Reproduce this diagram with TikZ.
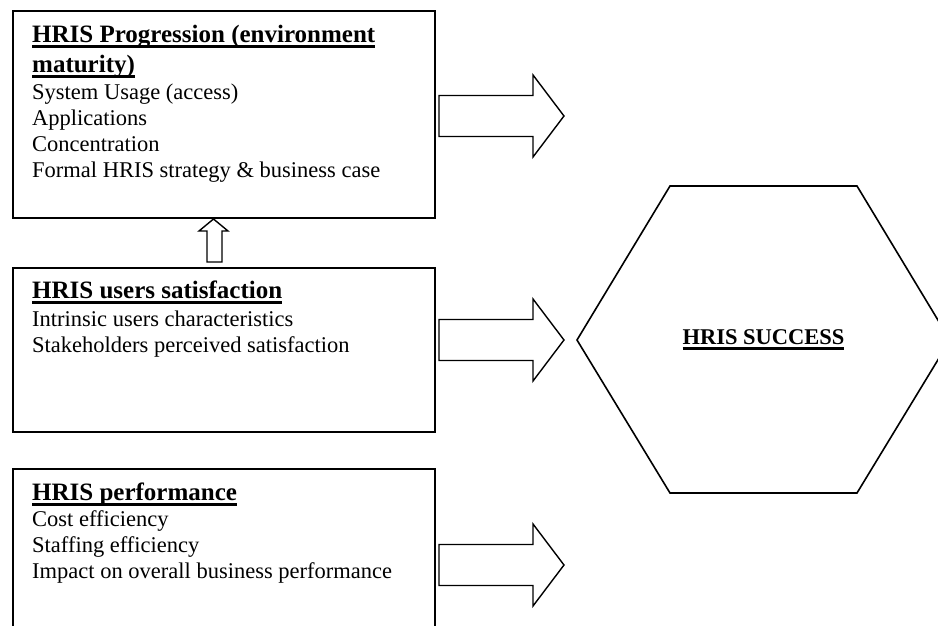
\documentclass[tikz,border=0pt]{standalone}
\usepackage{fontspec}
\setmainfont{Liberation Serif}
\newcommand{\hul}[1]{\setbox0=\hbox{#1}\rlap{\rule[-5.5pt]{\wd0}{2.4pt}}\box0}
\begin{document}
\begin{tikzpicture}[x=1pt,y=-1pt,
  boxstyle/.style={draw=black, line width=1.8pt, rectangle, inner sep=0pt, anchor=north west},
  txt/.style={anchor=base west, inner sep=0pt, align=left, font=\fontsize{22.5}{26}\selectfont},
  blockarrow/.style={draw=black, line width=1.4pt, line join=miter, fill=white}]
\useasboundingbox (0,0) rectangle (938,626);
% boxes
\node[boxstyle, minimum width=422pt, minimum height=206.5pt] (prog) at (12,10.5) {};
\node[boxstyle, minimum width=422pt, minimum height=164pt] (sat) at (12,267) {};
\node[boxstyle, minimum width=422pt, minimum height=180pt] (perf) at (12,468) {};
% texts (anchored at the baseline of the last line)
\node[txt] (progtxt) at (32,177) {{\fontsize{25}{30}\selectfont\bfseries\hul{HRIS Progression (environment}}\\[4pt]
{\fontsize{25}{30}\selectfont\bfseries\hul{maturity)}}\\[1pt]
System Usage (access)\\
Applications\\
Concentration\\
Formal HRIS strategy \& business case};
\node[txt] (sattxt) at (32,352) {{\fontsize{25}{30}\selectfont\bfseries\hul{HRIS users satisfaction}}\\[2pt]
Intrinsic users characteristics\\
Stakeholders perceived satisfaction};
\node[txt] (perftxt) at (32,578) {{\fontsize{25}{30}\selectfont\bfseries\hul{HRIS performance}}\\
Cost efficiency\\
Staffing efficiency\\
Impact on overall business performance};
% hexagon
\coordinate (h1) at (577,340);
\coordinate (h2) at (670,186);
\coordinate (h3) at (857,186);
\coordinate (h4) at (950,340);
\coordinate (h5) at (857,493);
\coordinate (h6) at (670,493);
\draw[line width=1.6pt, line join=miter] (h1) -- (h2) -- (h3) -- (h4) -- (h5) -- (h6) -- cycle;
\node[anchor=base, inner sep=0pt, font=\fontsize{22.5}{26}\selectfont\bfseries] (success) at (763.5,344) {\hul{HRIS SUCCESS}};
% right block arrows
\foreach \cy in {116, 340, 565}{
  \draw[blockarrow] (439,\cy-20.5) -- (533,\cy-20.5) -- (533,\cy-41) -- (564,\cy) -- (533,\cy+41) -- (533,\cy+20.5) -- (439,\cy+20.5) -- cycle;
}
% up arrow
\draw[blockarrow] (213.5,219) -- (228,231) -- (222,231) -- (222,262) -- (207,262) -- (207,231) -- (199,231) -- cycle;
\end{tikzpicture}
\end{document}
